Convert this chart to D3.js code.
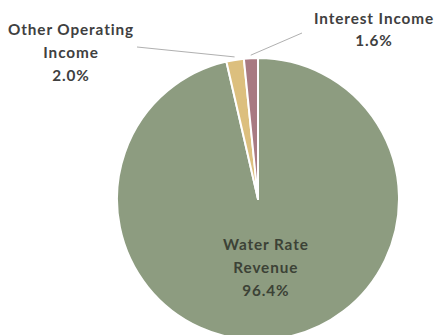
<!DOCTYPE html>
<html>
<head>
<meta charset="utf-8">
<script src="https://cdn.jsdelivr.net/npm/d3@7"></script>
<style>
  html, body { margin: 0; padding: 0; background: #ffffff; }
  svg { display: block; }
  text { font-family: Lato, "Open Sans", sans-serif; font-weight: bold; letter-spacing: 0.9px; }
</style>
</head>
<body>
<svg id="chart" width="436" height="335"></svg>
<script>
// Revenue sources (share of total, %)
const categories = ["Water Rate Revenue", "Other Operating Income", "Interest Income"];
const shares = [96.4, 2.0, 1.6];
const labelLines = [
  ["Water Rate", "Revenue", "96.4%"],
  ["Other Operating", "Income", "2.0%"],
  ["Interest Income", "1.6%"]
];

const palette = ["#8d9c80", "#dcbf7e", "#a87a82"];

const W = 436, H = 335;
const cx = 258, cy = 199, R = 141;

const svg = d3.select("#chart");
const g = svg.append("g").attr("transform", `translate(${cx},${cy})`);

const pie = d3.pie().sort(null).value(d => d.value);
const data = categories.map((c, i) => ({ name: c, value: shares[i], lines: labelLines[i] }));
const arcs = pie(data);

const arc = d3.arc().innerRadius(0).outerRadius(R);
const edgeArc = d3.arc().innerRadius(R + 3).outerRadius(R + 3);
const innerLabelArc = d3.arc().innerRadius(R * 0.49).outerRadius(R * 0.49);

g.selectAll("path.slice")
  .data(arcs)
  .join("path")
  .attr("class", "slice")
  .attr("d", arc)
  .attr("fill", (d, i) => palette[i])
  .attr("stroke", "#ffffff")
  .attr("stroke-width", 2)
  .attr("stroke-linejoin", "round");

// Label placement: the large slice is labelled inside, the small ones outside with leaders
const outsideLabels = {
  "Other Operating Income": { x: 71 - cx, y: 35 - cy, gap: 23, lead: [137 - cx, 47 - cy] },
  "Interest Income": { x: 374 - cx, y: 24 - cy, gap: 22, lead: [302 - cx, 33 - cy] }
};
const fontSize = 15.3;

arcs.forEach((d, i) => {
  const o = outsideLabels[d.data.name];
  if (o) {
    const end = edgeArc.centroid(d);
    g.append("path")
      .attr("d", d3.line()([o.lead, end]))
      .attr("fill", "none")
      .attr("stroke", "#b0b0b0")
      .attr("stroke-width", 1);
    const t = g.append("text")
      .attr("text-anchor", "middle")
      .attr("font-size", fontSize)
      .attr("fill", "#404040");
    d.data.lines.forEach((ln, k) => {
      t.append("tspan").attr("x", o.x).attr("y", o.y + k * o.gap).text(ln);
    });
  } else {
    const c = innerLabelArc.centroid(d);
    const t = g.append("text")
      .attr("text-anchor", "middle")
      .attr("font-size", fontSize)
      .attr("fill", "#3c4236");
    const n = d.data.lines.length;
    d.data.lines.forEach((ln, k) => {
      t.append("tspan")
        .attr("x", c[0])
        .attr("y", c[1] + (k - (n - 1) / 2) * 23 + 5)
        .text(ln);
    });
  }
});
</script>
</body>
</html>
